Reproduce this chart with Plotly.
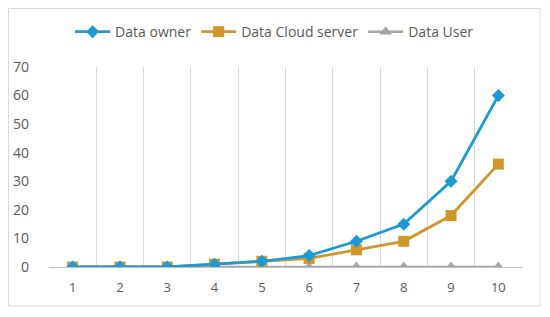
import plotly.graph_objects as go

# data
categories = ["1", "2", "3", "4", "5", "6", "7", "8", "9", "10"]
data_owner = [0, 0, 0, 1, 2, 4, 9, 15, 30, 60]
data_cloud = [0, 0, 0, 1, 2, 3, 6, 9, 18, 36]
data_user = [0, 0, 0, 0, 0, 0, 0, 0, 0, 0]

FONT = "Open Sans"
TEXT_COLOR = "#595959"
GRID_COLOR = "#D9D9D9"

fig = go.Figure()

fig.add_trace(go.Scatter(
    x=categories, y=data_user, name="Data User", mode="lines+markers",
    line=dict(color="#A5A5A5", width=2.5),
    marker=dict(symbol="triangle-up", size=11, color="#A5A5A5"),
))
fig.add_trace(go.Scatter(
    x=categories, y=data_cloud, name="Data Cloud server", mode="lines+markers",
    line=dict(color="#D0962A", width=2.8),
    marker=dict(symbol="square", size=11, color="#D0962A"),
))
fig.add_trace(go.Scatter(
    x=categories, y=data_owner, name="Data owner", mode="lines+markers",
    line=dict(color="#1C9AD6", width=2.8),
    marker=dict(symbol="diamond", size=10, color="#1C9AD6"),
))

# the page body has an 8px margin, so the figure is sized to fit inside it
fig.update_layout(
    width=534, height=301,
    margin=dict(l=41, r=20, t=59, b=42),
    paper_bgcolor="white", plot_bgcolor="white",
    font=dict(family=FONT, size=13, color=TEXT_COLOR),
    legend=dict(
        orientation="h", x=0.477, xanchor="center",
        yref="container", y=0.92, yanchor="middle",
        traceorder="reversed", font=dict(size=14, color=TEXT_COLOR),
        itemwidth=35,
    ),
    xaxis=dict(
        type="category", range=[-0.5, 9.5], tickson="boundaries",
        showgrid=True, gridcolor=GRID_COLOR, gridwidth=1, ticks="",
        showline=True, linecolor="#BFBFBF", linewidth=1, automargin=False,
        zeroline=False, tickfont=dict(size=13), ticklabelstandoff=8,
    ),
    yaxis=dict(
        range=[0, 70], dtick=10, showgrid=False, zeroline=False, showline=False,
        ticks="", tickfont=dict(size=14), ticklabelstandoff=19, automargin=False,
    ),
    shapes=[dict(
        type="rect", xref="paper", yref="paper", layer="below",
        x0=-0.0856, x1=1.038, y0=-0.195, y1=1.2925,
        line=dict(color="#D9D9D9", width=1),
    )],
)

fig.write_html("out.html")
